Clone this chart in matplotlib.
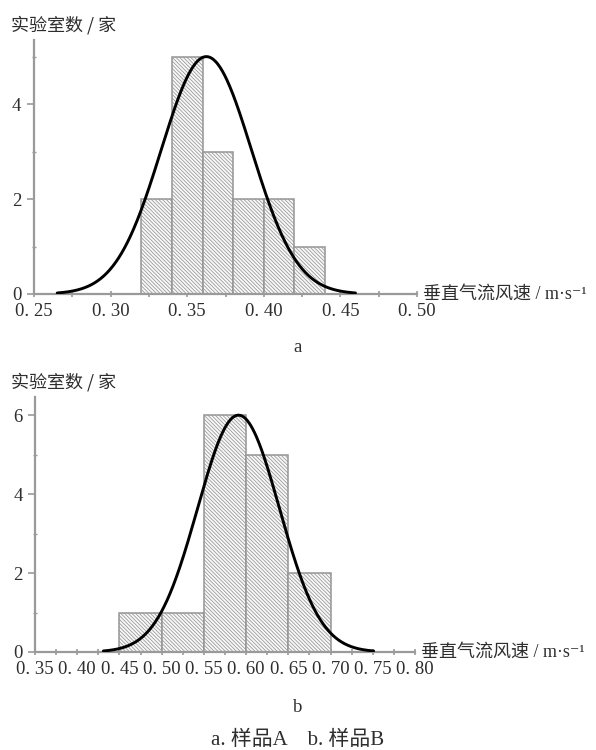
import numpy as np
import matplotlib
matplotlib.use("Agg")
import matplotlib.pyplot as plt
from matplotlib.ticker import MultipleLocator

# ---- data ----
edges_a = [0.32, 0.34, 0.36, 0.38, 0.40, 0.42, 0.44]
counts_a = [2, 5, 3, 2, 2, 1]
fit_a = dict(mu=0.3625, sigma=0.0295, peak=5.0)
xticks_a = [0.25, 0.30, 0.35, 0.40, 0.45, 0.50]
xticklabels_a = ["0. 25", "0. 30", "0. 35", "0. 40", "0. 45", "0. 50"]
yticks_a = [0, 2, 4]

edges_b = [0.45, 0.50, 0.55, 0.60, 0.65, 0.70]
counts_b = [1, 1, 6, 5, 2]
fit_b = dict(mu=0.591, sigma=0.0485, peak=6.0)
xticks_b = [0.35, 0.40, 0.45, 0.50, 0.55, 0.60, 0.65, 0.70, 0.75, 0.80]
xticklabels_b = ["0. 35", "0. 40", "0. 45", "0. 50", "0. 55", "0. 60",
                 "0. 65", "0. 70", "0. 75", "0. 80"]
yticks_b = [0, 2, 4, 6]

ylabel = "实验室数 / 家"
xlabel = "垂直气流风速 / m·s⁻¹"
subtitles = ["a", "b"]
caption = "a. 样品A    b. 样品B"

SERIF = ["Liberation Serif", "Noto Sans CJK SC", "DejaVu Serif"]
CJK = ["Noto Sans CJK SC", "DejaVu Sans"]
AXC = "#9a9a9a"
TXT = "#2e2e2e"

plt.rcParams["hatch.color"] = "#bdbdbd"
plt.rcParams["hatch.linewidth"] = 0.55

W, H = 596, 750
fig = plt.figure(figsize=(W / 100, H / 100), dpi=100)


def px_axes(x0, x1, y_top, y_bot):
    return fig.add_axes([x0 / W, 1 - y_bot / H, (x1 - x0) / W, (y_bot - y_top) / H])


def panel(ax, edges, counts, fit, xlim, ylim, xticks, xticklabels, yticks):
    lefts = np.array(edges[:-1])
    widths = np.diff(edges)
    ax.bar(lefts, counts, width=widths, align="edge", facecolor="#f8f8f8",
           edgecolor="#959595", linewidth=1.1, hatch="\\" * 9, zorder=2)
    xs = np.linspace(fit["mu"] - 3.3 * fit["sigma"], fit["mu"] + 3.3 * fit["sigma"], 400)
    ys = fit["peak"] * np.exp(-0.5 * ((xs - fit["mu"]) / fit["sigma"]) ** 2)
    ax.plot(xs, ys, color="black", lw=2.1, zorder=3, solid_capstyle="round")
    ax.set_xlim(*xlim)
    ax.set_ylim(*ylim)
    for s in ("top", "right"):
        ax.spines[s].set_visible(False)
    for s in ("left", "bottom"):
        ax.spines[s].set_color(AXC)
        ax.spines[s].set_linewidth(1.6)
    ax.set_xticks(xticks)
    ax.set_xticklabels(xticklabels, family=SERIF, fontsize=13.5, color=TXT)
    ax.xaxis.set_minor_locator(MultipleLocator(0.025))
    ax.set_yticks(yticks)
    ax.set_yticklabels([str(v) for v in yticks], family=SERIF, fontsize=13.5, color=TXT)
    ax.yaxis.set_minor_locator(MultipleLocator(1))
    ax.tick_params(axis="x", which="both", direction="inout", length=5, width=1.2,
                   color=AXC, pad=4)
    ax.tick_params(axis="y", which="major", direction="out", length=5, width=1.2,
                   color=AXC, pad=4)
    ax.tick_params(axis="y", which="minor", direction="inout", length=3, width=1.0,
                   color=AXC)
    ax.patch.set_alpha(0)
    ax.text(1.015, 0, xlabel, transform=ax.transAxes, ha="left", va="center",
            family=SERIF, fontsize=13, color=TXT)


ax1 = px_axes(34, 417, 40, 294)
panel(ax1, edges_a, counts_a, fit_a, (0.25, 0.50), (0, 5.35), xticks_a,
      xticklabels_a, yticks_a)
ax2 = px_axes(35, 415, 397, 652)
panel(ax2, edges_b, counts_b, fit_b, (0.35, 0.80), (0, 6.46), xticks_b,
      xticklabels_b, yticks_b)

fig.text(11 / W, 1 - 25 / H, ylabel, family=CJK, fontsize=13, color=TXT,
         ha="left", va="center")
fig.text(11 / W, 1 - 382 / H, ylabel, family=CJK, fontsize=13, color=TXT,
         ha="left", va="center")
fig.text(0.5, 1 - 347 / H, subtitles[0], family=SERIF, fontsize=13.5, color=TXT,
         ha="center", va="center")
fig.text(0.5, 1 - 707 / H, subtitles[1], family=SERIF, fontsize=13.5, color=TXT,
         ha="center", va="center")
fig.text(0.5, 1 - 740 / H, caption, family=SERIF, fontsize=15, color=TXT,
         ha="center", va="center")

fig.savefig("out.png", dpi=100, facecolor="white")
